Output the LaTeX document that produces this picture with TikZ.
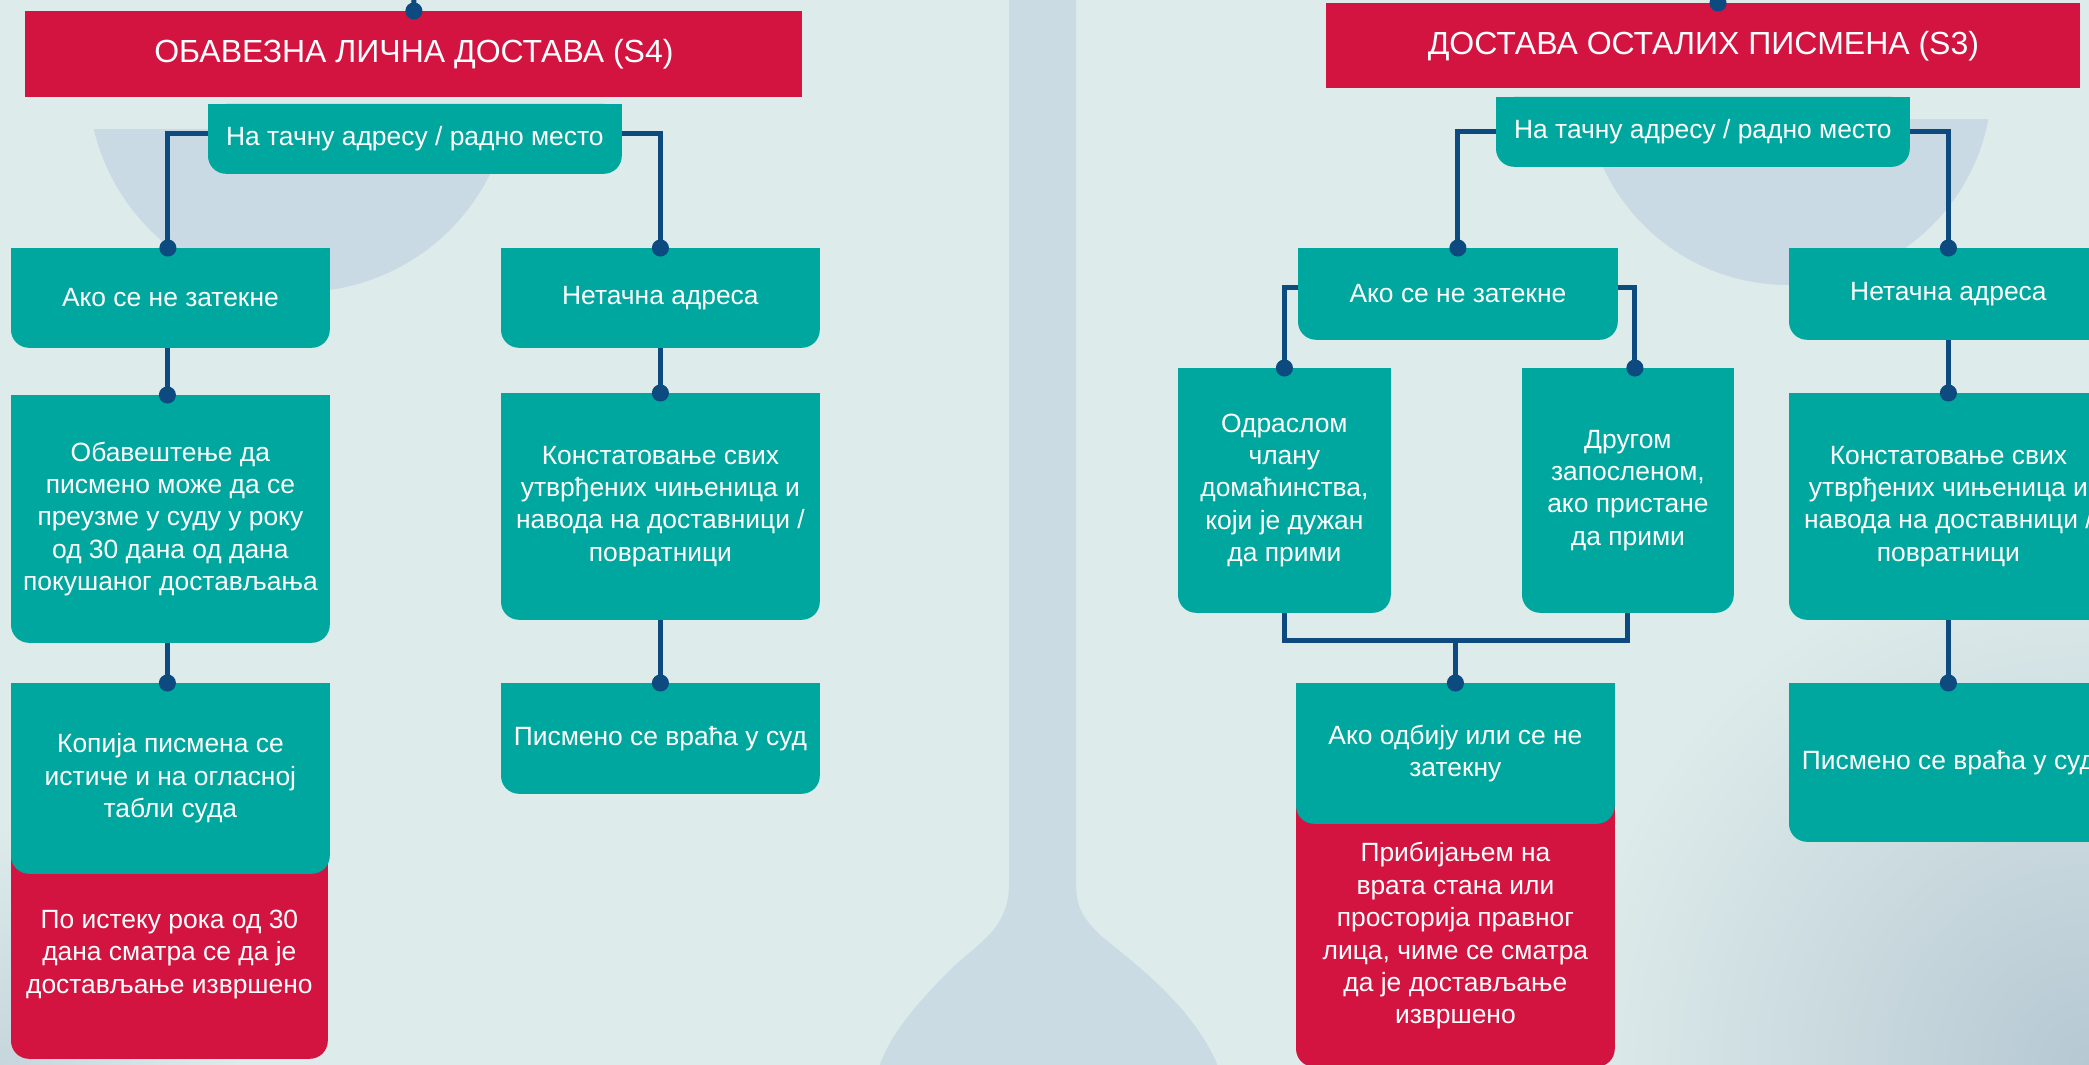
\documentclass[tikz,border=0pt]{standalone}
\usepackage{fontspec}
\setmainfont{Liberation Sans}
\usetikzlibrary{positioning, arrows.meta, backgrounds}

\definecolor{paper}{HTML}{DDEBEA}
\definecolor{crimson}{HTML}{D31440}
\definecolor{jade}{HTML}{00A79E}
\definecolor{navy}{HTML}{0D4A80}
\definecolor{grain}{HTML}{C4D4E2}
\definecolor{shadow}{HTML}{B6C8D3}

\newcommand{\boxfont}{\fontsize{13.2pt}{16.2pt}\selectfont}
\newcommand{\bannerfont}{\fontsize{16pt}{19pt}\selectfont}

\tikzstyle{link} = [line width=2.5pt, draw=navy, -{Circle[length=8.5pt]}, shorten >=-4.25pt]
\tikzstyle{bar} = [line width=2.5pt, draw=navy]
\tikzstyle{banner} = [rectangle, anchor=north west, inner sep=0pt, fill=crimson, text=white, font=\bannerfont]
\tikzstyle{card} = [rectangle, anchor=north west, inner sep=0pt, align=center, text=white, font=\boxfont]

% body of a card: square top, rounded bottom
\newcommand{\cardfill}[2]{%
  \fill[#1, rounded corners=9pt] (#2.north west) rectangle (#2.south east);
  \fill[#1] (#2.north west) rectangle (#2.east);}

\begin{document}
\begin{tikzpicture}[x=0.5pt, y=-0.5pt]
\useasboundingbox (0,0) rectangle (2089,1065);

% left half: S4
\node (s4title) [banner, minimum width=388.5pt, minimum height=43pt] at (25,11) {ОБАВЕЗНА ЛИЧНА ДОСТАВА (S4)};
\node (s4addr) [card, minimum width=206.5pt, minimum height=34.5pt] at (208,104) {На тачну адресу / радно место};

\node (s4absent) [card, minimum width=159pt, minimum height=49.5pt] at (11,248) {Ако се не затекне};
\node (s4notice) [card, minimum width=159pt, minimum height=123.5pt] at (11,395) {Обавештење да\\писмено може да се\\преузме у суду у року\\од 30 дана од дана\\покушаног достављања};
\node (s4copy) [card, minimum width=159pt, minimum height=95pt] at (11,683) {Копија писмена се\\истиче и на огласној\\табли суда};
\node (s4deemed) [card, minimum width=158pt, minimum height=104pt] at (11,850) {По истеку рока од 30\\дана сматра се да је\\достављање извршено};

\node (s4wrong) [card, minimum width=159pt, minimum height=49.5pt] at (501,248) {Нетачна адреса};
\node (s4record) [card, minimum width=159pt, minimum height=113pt] at (501,393) {Констатовање свих\\утврђених чињеница и\\навода на доставници /\\повратници};
\node (s4return) [card, minimum width=159pt, minimum height=55pt] at (501,683) {Писмено се враћа у суд};

% right half: S3
\node (s3title) [banner, minimum width=377pt, minimum height=42.5pt] at (1326,3) {ДОСТАВА ОСТАЛИХ ПИСМЕНА (S3)};
\node (s3addr) [card, minimum width=206.5pt, minimum height=34.5pt] at (1496,97) {На тачну адресу / радно место};

\node (s3absent) [card, minimum width=159.5pt, minimum height=45.5pt] at (1298,248) {Ако се не затекне};
\node (s3adult) [card, minimum width=106pt, minimum height=122pt] at (1178,368) {Одраслом\\члану\\домаћинства,\\који је дужан\\да прими};
\node (s3colleague) [card, minimum width=105.5pt, minimum height=122pt] at (1522,368) {Другом\\запосленом,\\ако пристане\\да прими};
\node (s3refuse) [card, minimum width=159pt, minimum height=70pt] at (1296,683) {Ако одбију или се не\\затекну};
\node (s3affix) [card, minimum width=159pt, minimum height=130.5pt] at (1296,805) {Прибијањем на\\врата стана или\\просторија правног\\лица, чиме се сматра\\да је достављање\\извршено};

\node (s3wrong) [card, minimum width=159pt, minimum height=45.5pt] at (1789,248) {Нетачна адреса};
\node (s3record) [card, minimum width=159pt, minimum height=113pt] at (1789,393) {Констатовање свих\\утврђених чињеница и\\навода на доставници /\\повратници};
\node (s3return) [card, minimum width=159pt, minimum height=79pt] at (1789,683) {Писмено се враћа у суд};

\coordinate (s4feed) at (414,-20);
\coordinate (s3feed) at (1718,-20);
\coordinate[above=21.5pt of s3refuse.north] (s3merge);

\draw[link] (s4feed) -- (s4title.north);
\draw[link] ([yshift=2.75pt]s4addr.west) -| ([xshift=-1.25pt]s4absent.north);
\draw[link] ([yshift=2.75pt]s4addr.east) -| (s4wrong.north);
\draw[link] ([xshift=-1.5pt]s4absent.south) -- ([xshift=-1.5pt]s4notice.north);
\draw[link] ([xshift=-1.5pt]s4notice.south) -- ([xshift=-1.5pt]s4copy.north);
\draw[link] (s4wrong) -- (s4record);
\draw[link] (s4record) -- (s4return);

\draw[link] (s3feed) -- (s3feed |- s3title.north);
\draw[link] (s3addr.west) -| (s3absent.north);
\draw[link] (s3addr.east) -| (s3wrong.north);
\draw[link] ([yshift=3pt]s3absent.west) -| (s3adult.north);
\draw[link] ([yshift=3pt]s3absent.east) -| ([xshift=3.5pt]s3colleague.north);
\draw[bar] (s3adult.south) |- (s3merge) -| (s3colleague.south);
\draw[link] (s3merge) -- (s3refuse.north);
\draw[link] (s3wrong) -- (s3record);
\draw[link] (s3record) -- (s3return);

\begin{scope}[on background layer]
\clip (0,0) rectangle (2089,1065);
\fill[paper] (0,0) rectangle (2089,1065);
\shade[inner color=shadow, outer color=paper] (2089,1065) circle[radius=520];
\shade[inner color=shadow!60!paper, outer color=paper] (0,1065) circle[radius=240];
% grainy half discs and the stand in the middle
\begin{scope}
\clip (0,130) rectangle (1000,400);
\fill[grain!75!paper] (300,80) circle[radius=212];
\end{scope}
\begin{scope}
\clip (1100,120) rectangle (2089,400);
\fill[grain!75!paper] (1788,81) circle[radius=204];
\end{scope}
\fill[grain!70!paper] (1009,-5) -- (1009,885) .. controls (1009,930) and (975,945) .. (950,970)
  .. controls (915,1005) and (885,1040) .. (877,1075) -- (1221,1075)
  .. controls (1200,1010) and (1130,960) .. (1100,935)
  .. controls (1080,915) and (1076,905) .. (1076,880) -- (1076,-5) -- cycle;
% card bodies
\cardfill{crimson}{s4deemed}
\cardfill{crimson}{s3affix}
\cardfill{jade}{s4addr}
\cardfill{jade}{s4absent}
\cardfill{jade}{s4notice}
\cardfill{jade}{s4copy}
\cardfill{jade}{s4wrong}
\cardfill{jade}{s4record}
\cardfill{jade}{s4return}
\cardfill{jade}{s3addr}
\cardfill{jade}{s3absent}
\cardfill{jade}{s3adult}
\cardfill{jade}{s3colleague}
\cardfill{jade}{s3refuse}
\cardfill{jade}{s3wrong}
\cardfill{jade}{s3record}
\cardfill{jade}{s3return}
\end{scope}

\end{tikzpicture}
\end{document}
